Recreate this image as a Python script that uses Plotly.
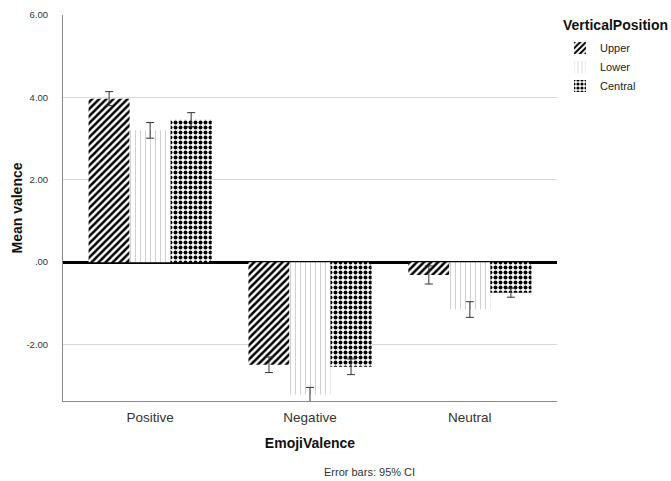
import plotly.graph_objects as go

categories = ["Positive", "Negative", "Neutral"]
series_names = ["Upper", "Lower", "Central"]
upper_vals = [3.97, -2.49, -0.31]
upper_ci = [0.17, 0.19, 0.22]
lower_vals = [3.20, -3.22, -1.15]
lower_ci = [0.19, 0.18, 0.19]
central_vals = [3.46, -2.54, -0.74]
central_ci = [0.17, 0.19, 0.11]

y_tickvals = [-2, 0, 2, 4, 6]
y_ticktext = ["-2.00", ".00", "2.00", "4.00", "6.00"]

FONT = "Arial, Liberation Sans, sans-serif"

patterns = [
    dict(shape="/", fgcolor="black", bgcolor="white", size=5, solidity=0.5,
         fillmode="replace"),
    dict(shape="|", fgcolor="#c0c0c0", bgcolor="white", size=5, solidity=0.15,
         fillmode="replace"),
    dict(shape=".", fgcolor="black", bgcolor="white", size=5, solidity=0.5,
         fillmode="replace"),
]

fig = go.Figure()
for name, vals, ci, pat in zip(series_names,
                               [upper_vals, lower_vals, central_vals],
                               [upper_ci, lower_ci, central_ci],
                               patterns):
    fig.add_trace(go.Bar(
        name=name, x=categories, y=vals,
        marker=dict(color="white", pattern=pat, line=dict(width=0)),
        error_y=dict(type="data", array=ci, visible=True, color="#333333",
                     thickness=1, width=4),
    ))

fig.update_layout(
    width=671, height=481,
    margin=dict(l=63, r=114, t=15, b=80, autoexpand=False),
    paper_bgcolor="white", plot_bgcolor="white",
    barmode="group", bargap=0.23, bargroupgap=0,
    font=dict(family=FONT, color="#333333"),
    showlegend=True,
    legend=dict(x=1.006, xref="paper", xanchor="left", y=0.952, yanchor="top",
                font=dict(size=11, family=FONT, color="#222222"),
                bgcolor="rgba(0,0,0,0)", itemwidth=30, tracegroupgap=0),
    xaxis=dict(
        range=[-0.545, 2.545],
        showline=True, linecolor="#888888", linewidth=1,
        ticks="", ticklabelstandoff=4,
        tickfont=dict(size=13.5, family=FONT, color="#333333"),
        title=dict(text="<b>EmojiValence</b>", font=dict(size=14, family=FONT, color="#111111"),
                   standoff=13),
        showgrid=False, zeroline=False,
    ),
    yaxis=dict(
        range=[-3.37, 6.0],
        tickvals=y_tickvals, ticktext=y_ticktext,
        tickfont=dict(size=9.5, family=FONT, color="#333333"),
        showline=True, linecolor="#888888", linewidth=1,
        ticks="", ticklabelstandoff=12,
        showgrid=True, gridcolor="#d9d9d9", gridwidth=1,
        zeroline=True, zerolinecolor="black", zerolinewidth=3,
        title=dict(text="<b>Mean valence</b>", font=dict(size=14, family=FONT, color="#111111"),
                   standoff=0),
    ),
    annotations=[
        dict(text="<b>VerticalPosition</b>", x=1.008, xref="paper", y=1.0, yref="paper",
             xanchor="left", yanchor="top", showarrow=False,
             font=dict(size=14, family=FONT, color="#111111")),
        dict(text="Error bars: 95% CI", x=0.621, xref="paper", y=-0.184, yref="paper",
             xanchor="center", yanchor="middle", showarrow=False,
             font=dict(size=11, family=FONT, color="#333333")),
    ],
)

fig.write_html("out.html", config={"displayModeBar": False},
               post_script="document.body.style.margin='0';")
